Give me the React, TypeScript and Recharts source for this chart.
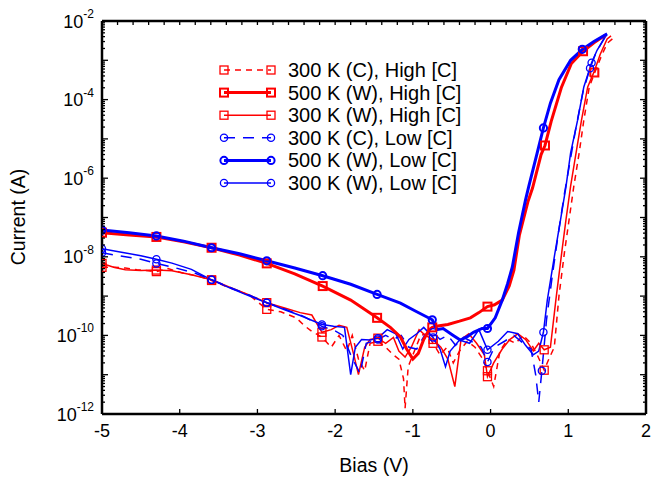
import { LineChart, Line, XAxis, YAxis, Legend } from "recharts";

type Pt = [number, number];

// bias (V), current (A)
const highCold300: Pt[] = [
  [-5, 5.4e-9], [-4.85, 5.4e-9], [-4.7, 5.2e-9], [-4.55, 4.7e-9], [-4.3, 4.2e-9], [-4.15, 5.0e-9],
  [-3.95, 3.8e-9], [-3.75, 3.2e-9], [-3.59, 2.5e-9], [-3.35, 1.6e-9], [-3.1, 1.05e-9], [-2.88, 4.6e-10],
  [-2.7, 4.0e-10], [-2.5, 2.8e-10], [-2.4, 1.8e-10], [-2.3, 1.26e-10], [-2.17, 9.1e-11], [-2.05, 5.0e-11],
  [-1.95, 1.0e-10], [-1.85, 4.0e-11], [-1.78, 1.0e-10], [-1.7, 2.5e-11], [-1.62, 1.26e-11], [-1.55, 6.3e-11],
  [-1.45, 7.1e-11], [-1.35, 5.0e-11], [-1.25, 3.2e-11], [-1.18, 2.5e-11], [-1.12, 7.9e-12], [-1.1, 1.4e-12],
  [-1.06, 1.6e-11], [-0.98, 4.0e-11], [-0.9, 1.0e-10], [-0.82, 1.1e-10], [-0.74, 6.3e-11], [-0.65, 3.2e-11],
  [-0.56, 5.0e-11], [-0.48, 2.0e-11], [-0.4, 4.0e-11], [-0.3, 7.1e-11], [-0.2, 5.0e-11], [-0.1, 2.5e-11],
  [-0.04, 1.26e-11], [0.04, 5.0e-12], [0.12, 4.0e-11], [0.22, 7.9e-11], [0.32, 6.3e-11], [0.42, 1.0e-10],
  [0.52, 6.3e-11], [0.6, 3.2e-11], [0.69, 1.3e-11], [0.75, 2.5e-11], [0.82, 5.0e-11], [0.88, 1.0e-9],
  [0.95, 1.26e-8], [1.01, 8.7e-8], [1.07, 6.0e-7], [1.14, 4.4e-6], [1.2, 3.0e-5], [1.27, 2.1e-4],
  [1.34, 4.8e-4], [1.42, 1.2e-3], [1.5, 2.7e-3], [1.6, 4.0e-3],
];

const highWarm500: Pt[] = [
  [-5, 4.1e-8], [-4.65, 3.6e-8], [-4.3, 3.2e-8], [-3.95, 2.4e-8], [-3.59, 1.7e-8], [-3.23, 1.1e-8],
  [-2.88, 6.8e-9], [-2.52, 3.7e-9], [-2.16, 1.8e-9], [-1.8, 7.9e-10], [-1.46, 2.8e-10], [-1.29, 1.6e-10],
  [-1.16, 9.1e-11], [-1.08, 4.5e-11], [-1.0, 2.5e-11], [-0.93, 3.5e-11], [-0.86, 7.9e-11], [-0.79, 1.4e-10],
  [-0.75, 1.6e-10], [-0.7, 1.7e-10], [-0.55, 1.9e-10], [-0.4, 2.3e-10], [-0.26, 2.8e-10], [-0.15, 3.8e-10],
  [-0.04, 5.4e-10], [0.05, 6.0e-10], [0.15, 7.9e-10], [0.24, 1.8e-9], [0.3, 4.5e-9], [0.37, 3.5e-8],
  [0.48, 2.5e-7], [0.54, 5.6e-7], [0.65, 4.0e-6], [0.7, 6.8e-6], [0.78, 2.8e-5], [0.91, 2.0e-4],
  [1.04, 8.3e-4], [1.19, 1.7e-3], [1.33, 2.8e-3], [1.48, 4.4e-3],
];

const highWarm300: Pt[] = [
  [-5, 6.8e-9], [-4.85, 5.4e-9], [-4.7, 4.7e-9], [-4.5, 4.5e-9], [-4.3, 4.6e-9], [-4.1, 4.4e-9],
  [-3.85, 3.5e-9], [-3.59, 2.6e-9], [-3.35, 1.66e-9], [-3.1, 1.05e-9], [-2.88, 6.8e-10], [-2.65, 5.0e-10],
  [-2.45, 3.8e-10], [-2.3, 3.3e-10], [-2.17, 1.2e-10], [-2.05, 1.4e-10], [-1.95, 1.8e-10], [-1.85, 1.6e-10],
  [-1.76, 3.2e-11], [-1.7, 1.0e-11], [-1.62, 5.0e-11], [-1.55, 7.9e-11], [-1.45, 8.5e-11], [-1.35, 6.3e-11],
  [-1.25, 8.9e-11], [-1.18, 4.0e-11], [-1.1, 2.8e-11], [-1.02, 5.0e-11], [-0.92, 1.4e-10], [-0.84, 1.0e-10],
  [-0.74, 7.9e-11], [-0.64, 5.0e-11], [-0.55, 2.5e-11], [-0.46, 5.0e-12], [-0.38, 7.9e-11], [-0.28, 1.1e-10],
  [-0.18, 6.3e-11], [-0.08, 3.2e-11], [-0.04, 8.9e-12], [0.04, 2.0e-11], [0.15, 4.5e-11], [0.25, 7.9e-11],
  [0.35, 1.1e-10], [0.45, 7.9e-11], [0.55, 4.0e-11], [0.62, 6.3e-11], [0.69, 4.3e-11], [0.77, 5.0e-11],
  [0.84, 7.9e-10], [0.92, 1.5e-8], [0.97, 8.7e-8], [1.03, 6.3e-7], [1.1, 4.4e-6], [1.17, 3.0e-5],
  [1.25, 2.1e-4], [1.33, 5.0e-4], [1.41, 1.4e-3], [1.5, 3.5e-3], [1.55, 4.2e-3],
];

const lowCold300: Pt[] = [
  [-5, 1.26e-8], [-4.72, 1.02e-8], [-4.5, 8.7e-9], [-4.3, 6.8e-9], [-4.05, 5.2e-9], [-3.8, 3.8e-9],
  [-3.59, 2.6e-9], [-3.35, 1.66e-9], [-3.1, 1.05e-9], [-2.88, 6.8e-10], [-2.65, 4.7e-10], [-2.4, 3.0e-10],
  [-2.17, 1.7e-10], [-2.0, 1.3e-10], [-1.9, 1.0e-10], [-1.8, 3.2e-11], [-1.68, 1.07e-11], [-1.6, 6.3e-11],
  [-1.45, 7.9e-11], [-1.35, 1.0e-10], [-1.25, 7.9e-11], [-1.15, 1.0e-10], [-1.05, 5.0e-11], [-0.95, 4.5e-11],
  [-0.85, 1.0e-10], [-0.74, 1.2e-10], [-0.65, 7.9e-11], [-0.55, 1.0e-10], [-0.45, 5.6e-11], [-0.35, 8.9e-11],
  [-0.25, 7.1e-11], [-0.12, 5.0e-11], [-0.04, 2.1e-11], [0.05, 5.0e-11], [0.18, 7.1e-11], [0.3, 1.0e-10],
  [0.42, 6.3e-11], [0.52, 4.5e-11], [0.58, 1.0e-11], [0.62, 2.0e-12], [0.66, 1.26e-11], [0.72, 2.5e-10],
  [0.8, 4.0e-9], [0.88, 5.0e-8], [0.95, 4.0e-7], [1.02, 2.5e-6], [1.1, 2.0e-5], [1.19, 1.6e-4],
  [1.28, 6.3e-4], [1.36, 1.6e-3], [1.48, 4.2e-3],
];

const lowWarm500: Pt[] = [
  [-5, 4.8e-8], [-4.65, 4.1e-8], [-4.3, 3.4e-8], [-3.95, 2.5e-8], [-3.59, 1.7e-8], [-3.23, 1.2e-8],
  [-2.88, 7.9e-9], [-2.52, 5.2e-9], [-2.16, 3.3e-9], [-1.8, 2.0e-9], [-1.46, 1.1e-9], [-1.16, 6.6e-10],
  [-0.95, 4.0e-10], [-0.75, 2.5e-10], [-0.69, 1.4e-10], [-0.61, 1.5e-10], [-0.48, 1.0e-10], [-0.39, 7.6e-11],
  [-0.3, 9.3e-11], [-0.22, 1.2e-10], [-0.11, 1.5e-10], [-0.04, 1.5e-10], [0.06, 2.8e-10], [0.15, 7.9e-10],
  [0.22, 2.1e-9], [0.28, 5.5e-9], [0.36, 4.1e-8], [0.45, 2.8e-7], [0.49, 6.0e-7], [0.6, 4.4e-6],
  [0.68, 1.9e-5], [0.77, 8.1e-5], [0.88, 3.2e-4], [1.03, 1.0e-3], [1.18, 1.9e-3], [1.33, 3.0e-3],
  [1.5, 4.7e-3],
];

const lowWarm300: Pt[] = [
  [-5, 1.6e-8], [-4.75, 1.3e-8], [-4.5, 1.07e-8], [-4.3, 8.7e-9], [-4.1, 6.9e-9], [-3.85, 4.8e-9],
  [-3.59, 2.6e-9], [-3.35, 1.6e-9], [-3.1, 1.0e-9], [-2.88, 6.8e-10], [-2.65, 4.5e-10], [-2.45, 3.2e-10],
  [-2.17, 1.9e-10], [-2.02, 1.7e-10], [-1.88, 1.6e-10], [-1.8, 1.0e-11], [-1.74, 5.0e-11], [-1.66, 7.9e-11],
  [-1.55, 7.6e-11], [-1.45, 8.5e-11], [-1.33, 1.4e-10], [-1.22, 1.1e-10], [-1.13, 4.5e-11], [-1.05, 7.9e-11],
  [-0.95, 1.1e-10], [-0.86, 1.6e-10], [-0.74, 8.9e-11], [-0.65, 4.5e-11], [-0.58, 1.6e-11], [-0.52, 4.0e-11],
  [-0.4, 7.6e-11], [-0.27, 6.3e-11], [-0.15, 1.4e-10], [-0.04, 4.3e-11], [0.1, 7.1e-11], [0.22, 1.26e-10],
  [0.35, 1.1e-10], [0.45, 5.6e-11], [0.55, 3.2e-11], [0.62, 4.0e-11], [0.68, 1.2e-10], [0.73, 7.9e-10],
  [0.82, 1.0e-8], [0.9, 8.7e-8], [0.97, 6.0e-7], [1.03, 4.4e-6], [1.12, 3.0e-5], [1.2, 2.1e-4],
  [1.3, 8.7e-4], [1.37, 1.8e-3], [1.49, 4.4e-3],
];

// bias values that carry a marker
const marksHighCold300 = [-5, -4.3, -3.59, -2.88, -2.17, -1.45, -0.74, -0.04, 0.69, 1.34];
const marksHighWarm500 = [-5, -4.3, -3.59, -2.88, -2.16, -1.46, -0.75, -0.04, 0.7, 1.19];
const marksHighWarm300 = [-5, -4.3, -3.59, -2.88, -2.17, -1.45, -0.74, -0.04, 0.69, 1.33];
const marksLowCold300 = [-5, -4.3, -3.59, -2.88, -2.17, -1.45, -0.74, -0.04, 0.66, 1.28];
const marksLowWarm500 = [-5, -4.3, -3.59, -2.88, -2.16, -1.46, -0.75, -0.04, 0.68, 1.18];
const marksLowWarm300 = [-5, -4.3, -3.59, -2.88, -2.17, -1.45, -0.74, -0.04, 0.68, 1.3];

const xTicks = [-5, -4, -3, -2, -1, 0, 1, 2];

const RED = "#ff0000";
const BLUE = "#0000ff";
const FONT = "Arial, 'Liberation Sans', sans-serif";

const W = 651;
const H = 485;
const PL = 102;
const PR = 646;
const PT = 21;
const PB = 414;

const yTicks: number[] = [];
for (let e = -12; e < -2; e++) for (let m = 1; m < 10; m++) yTicks.push(m * Math.pow(10, e));
yTicks.push(1e-2);
const topTicks: number[] = [];
for (let i = 0; i <= 35; i++) topTicks.push(Math.round((-5 + i * 0.2) * 10) / 10);

const toRows = (pts: Pt[]) => pts.map(([bias, current]) => ({ bias, current }));

const series = [
  { name: "300 K (C), High [C]", data: highCold300, marks: marksHighCold300, color: RED, width: 1.5, dash: "6 5", shape: "square" },
  { name: "500 K (W), High [C]", data: highWarm500, marks: marksHighWarm500, color: RED, width: 3, dash: undefined, shape: "square" },
  { name: "300 K (W), High [C]", data: highWarm300, marks: marksHighWarm300, color: RED, width: 1.5, dash: undefined, shape: "square" },
  { name: "300 K (C), Low [C]", data: lowCold300, marks: marksLowCold300, color: BLUE, width: 1.5, dash: "11 8", shape: "circle" },
  { name: "500 K (W), Low [C]", data: lowWarm500, marks: marksLowWarm500, color: BLUE, width: 3, dash: undefined, shape: "circle" },
  { name: "300 K (W), Low [C]", data: lowWarm300, marks: marksLowWarm300, color: BLUE, width: 1.5, dash: undefined, shape: "circle" },
];

// thin first, thick on top
const drawOrder = [0, 2, 3, 5, 1, 4];

function Marker({ x, y, shape, color, sw }: { x: number; y: number; shape: string; color: string; sw: number }) {
  if (shape === "square")
    return <rect x={x - 4} y={y - 4} width={8} height={8} fill="none" stroke={color} strokeWidth={sw} />;
  return <circle cx={x} cy={y} r={3.6} fill="none" stroke={color} strokeWidth={sw} />;
}

const makeDot = (s: (typeof series)[number]) => (props: any) => {
  const { cx, cy, payload, index } = props;
  if (cx == null || cy == null || !s.marks.includes(payload.bias)) return <g key={index} />;
  return (
    <g key={index}>
      <Marker x={cx} y={cy} shape={s.shape} color={s.color} sw={s.width > 2 ? 2 : 1.3} />
    </g>
  );
};

const LeftTick = (props: any) => {
  const { y, payload } = props;
  const e = Math.log10(payload.value);
  const n = Math.round(e);
  const major = Math.abs(e - n) < 1e-6;
  return (
    <g>
      <line x1={PL} x2={PL + (major ? 6 : 3)} y1={y} y2={y} stroke="#000" strokeWidth={1.3} />
      {major && n % 2 === 0 && (
        <text x={94} y={y + 6.5} textAnchor="end" fontSize={18} fontFamily={FONT} fill="#000">
          10
          <tspan fontSize={12} dy={-9.5}>{`${n}`}</tspan>
        </text>
      )}
    </g>
  );
};

const RightTick = (props: any) => {
  const { y, payload } = props;
  const e = Math.log10(payload.value);
  const major = Math.abs(e - Math.round(e)) < 1e-6;
  return <line x1={PR} x2={PR - (major ? 6 : 3)} y1={y} y2={y} stroke="#000" strokeWidth={1.3} />;
};

const BottomTick = (props: any) => {
  const { x, payload } = props;
  return (
    <g>
      <line x1={x} x2={x} y1={PB} y2={PB - 5} stroke="#000" strokeWidth={1.3} />
      <text x={x} y={437} textAnchor="middle" fontSize={18} fontFamily={FONT} fill="#000">
        {`${payload.value}`}
      </text>
    </g>
  );
};

const TopTick = (props: any) => {
  const { x } = props;
  return <line x1={x} x2={x} y1={PT} y2={PT + 4} stroke="#000" strokeWidth={1.3} />;
};

const LegendBox = () => (
  <svg width={290} height={150}>
    {series.map((s, i) => {
      const y = 15 + i * 22.6;
      return (
        <g key={s.name}>
          <line x1={14} x2={61} y1={y} y2={y} stroke={s.color} strokeWidth={s.width} strokeDasharray={s.dash} />
          <Marker x={14} y={y} shape={s.shape} color={s.color} sw={s.width > 2 ? 2 : 1.3} />
          <Marker x={61} y={y} shape={s.shape} color={s.color} sw={s.width > 2 ? 2 : 1.3} />
          <text x={78} y={y + 7} fontSize={20} fontFamily={FONT} fill="#000">
            {s.name}
          </text>
        </g>
      );
    })}
  </svg>
);

export default function App() {
  return (
    <div style={{ position: "absolute", left: 0, top: 0, width: W, height: H, background: "#fff" }}>
      <LineChart width={W} height={H} margin={{ top: PT - 1, right: W - PR - 1, bottom: 0, left: 0 }}>
        <XAxis
          xAxisId="b"
          dataKey="bias"
          type="number"
          domain={[-5, 2]}
          ticks={xTicks}
          interval={0}
          allowDataOverflow
          height={H - PB}
          axisLine={{ stroke: "#000", strokeWidth: 2.5 }}
          tickLine={false}
          tick={BottomTick}
        />
        <XAxis
          xAxisId="t"
          orientation="top"
          dataKey="bias"
          type="number"
          domain={[-5, 2]}
          ticks={topTicks}
          interval={0}
          allowDataOverflow
          height={1}
          axisLine={{ stroke: "#000", strokeWidth: 2.5 }}
          tickLine={false}
          tick={TopTick}
        />
        <YAxis
          yAxisId="l"
          type="number"
          scale="log"
          domain={[1e-12, 1e-2]}
          ticks={yTicks}
          interval={0}
          allowDataOverflow
          width={PL}
          axisLine={{ stroke: "#000", strokeWidth: 2.5 }}
          tickLine={false}
          tick={LeftTick}
        />
        <YAxis
          yAxisId="r"
          orientation="right"
          type="number"
          scale="log"
          domain={[1e-12, 1e-2]}
          ticks={yTicks}
          interval={0}
          allowDataOverflow
          width={1}
          axisLine={{ stroke: "#000", strokeWidth: 2.5 }}
          tickLine={false}
          tick={RightTick}
        />
        <Legend
          layout="vertical"
          align="center"
          verticalAlign="middle"
          content={LegendBox}
          wrapperStyle={{ left: 210, top: 55, width: 290, height: 150 }}
        />
        {drawOrder.map((i) => {
          const s = series[i];
          return (
            <Line
              key={s.name}
              xAxisId="b"
              yAxisId="l"
              data={toRows(s.data)}
              dataKey="current"
              name={s.name}
              type="linear"
              stroke={s.color}
              strokeWidth={s.width}
              strokeDasharray={s.dash}
              dot={makeDot(s)}
              activeDot={false}
              isAnimationActive={false}
            />
          );
        })}
      </LineChart>
      <div
        style={{
          position: "absolute",
          left: 0,
          top: 0,
          pointerEvents: "none",
        }}
      >
        <svg width={W} height={H}>
          <text x={374} y={472} textAnchor="middle" fontSize={19.5} fontFamily={FONT} fill="#000">
            Bias (V)
          </text>
          <text
            x={25}
            y={217}
            textAnchor="middle"
            fontSize={19.5}
            fontFamily={FONT}
            fill="#000"
            transform="rotate(-90 25 217)"
          >
            Current (A)
          </text>
        </svg>
      </div>
    </div>
  );
}
